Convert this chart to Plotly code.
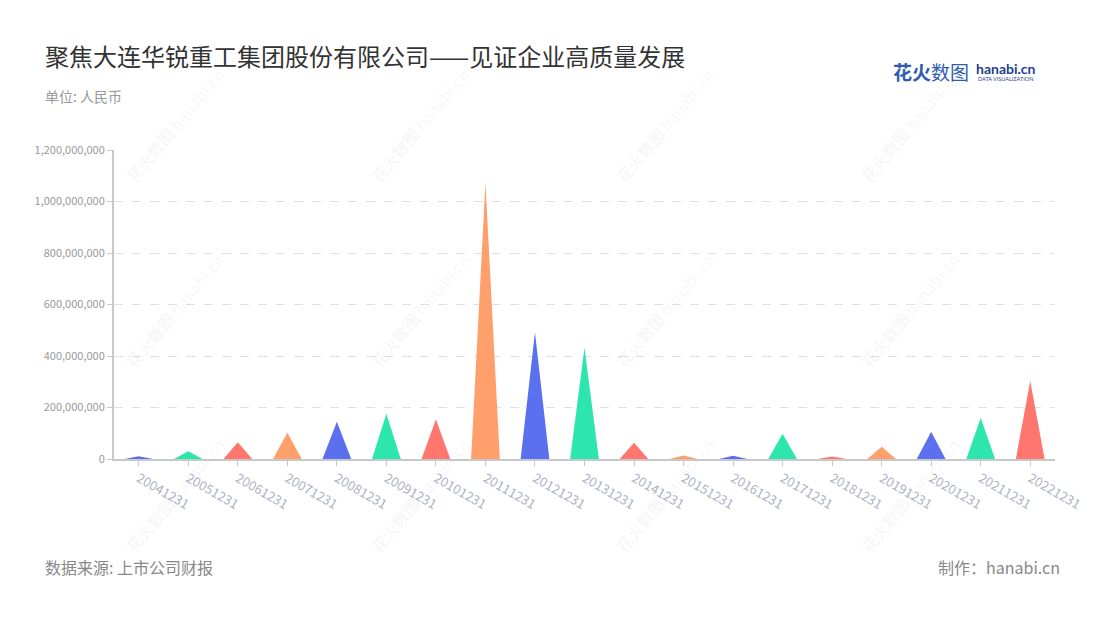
import plotly.graph_objects as go

categories = ["20041231", "20051231", "20061231", "20071231", "20081231", "20091231",
              "20101231", "20111231", "20121231", "20131231", "20141231", "20151231",
              "20161231", "20171231", "20181231", "20191231", "20201231", "20211231",
              "20221231"]
values = [11e6, 30e6, 65e6, 102e6, 145e6, 176e6,
          154e6, 1073e6, 492e6, 432e6, 63e6, 14e6,
          13e6, 98e6, 10e6, 48e6, 106e6, 160e6,
          303e6]
palette = ["#5a70ee", "#2de6ad", "#ff766e", "#ffa06c"]
y_ticks = [0, 200e6, 400e6, 600e6, 800e6, 1000e6, 1200e6]

FONT = "Noto Sans CJK SC"
OFF = 8  # page body margin
W, H = 1100 - OFF, 620 - OFF
L, T = 114 - OFF, 150 - OFF
PW, PH = 941, 309
R, B = W - L - PW, H - T - PH


def px(x):
    return (x - OFF - L) / PW


def py(y):
    return (T + PH - (y - OFF)) / PH


fig = go.Figure()
half = 0.29
for i, (c, v) in enumerate(zip(categories, values)):
    fig.add_trace(go.Scatter(
        x=[i - half, i, i + half, i - half],
        y=[0, v, 0, 0],
        mode="lines",
        fill="toself",
        fillcolor=palette[i % 4],
        line=dict(width=0, color=palette[i % 4]),
        name=c,
        hoverinfo="skip",
        showlegend=False,
    ))

annotations = [
    dict(text="聚焦大连华锐重工集团股份有限公司——见证企业高质量发展", x=px(43), y=py(55),
         xanchor="left", yanchor="middle", font=dict(size=24, color="#333333", family=FONT)),
    dict(text="单位: 人民币", x=px(43), y=py(96),
         xanchor="left", yanchor="middle", font=dict(size=14, color="#999999", family=FONT)),
    dict(text="数据来源: 上市公司财报", x=px(43), y=py(567),
         xanchor="left", yanchor="middle", font=dict(size=16, color="#888888", family=FONT)),
    dict(text="制作：hanabi.cn", x=px(1062), y=py(567),
         xanchor="right", yanchor="middle", font=dict(size=16, color="#888888", family=FONT)),
    dict(text="<b>花火</b>数图", x=px(891), y=py(72),
         xanchor="left", yanchor="middle", font=dict(size=19, color="#2f5cb0", family=FONT)),
    dict(text="<b>hanabi.cn</b>", x=px(974), y=py(69),
         xanchor="left", yanchor="middle", font=dict(size=14, color="#1f3f8f", family="Lato")),
    dict(text="DATA VISUALIZATION", x=px(976), y=py(79),
         xanchor="left", yanchor="middle", font=dict(size=5.5, color="#1f3f8f", family="Lato")),
]
# faint watermarks
for cx in [175, 420, 665, 910]:
    for cy in [125, 310, 495]:
        annotations.append(dict(
            text="<b>花火数图</b> hanabi.cn", x=px(cx), y=py(cy), textangle=-50,
            xanchor="center", yanchor="middle", showarrow=False,
            font=dict(size=16, color="rgba(0,0,0,0.05)", family=FONT)))
for a in annotations:
    a.update(xref="paper", yref="paper", showarrow=False)

fig.update_layout(
    width=W, height=H,
    margin=dict(l=L, r=R, t=T, b=B),
    plot_bgcolor="white", paper_bgcolor="white",
    font=dict(family=FONT),
    annotations=annotations,
    xaxis=dict(
        range=[-0.5, len(categories) - 0.5],
        tickmode="array", tickvals=list(range(len(categories))), ticktext=categories,
        tickangle=30, tickfont=dict(size=13, color="#aeb2c4", family=FONT),
        showgrid=False, zeroline=False,
        showline=True, linecolor="#c8c8c8", linewidth=2,
        ticks="outside", ticklen=5, tickcolor="#c8c8c8",
        fixedrange=True,
    ),
    yaxis=dict(
        range=[0, 1200e6], tickmode="array", tickvals=y_ticks,
        tickformat=",d", tickfont=dict(size=11, color="#999999", family=FONT),
        showgrid=True, gridcolor="#e0e0e0", griddash="dash", gridwidth=1,
        zeroline=False, showline=True, linecolor="#c8c8c8", linewidth=2,
        ticks="outside", ticklen=5, tickcolor="#c8c8c8",
        fixedrange=True,
    ),
)

fig.write_html("out.html")
